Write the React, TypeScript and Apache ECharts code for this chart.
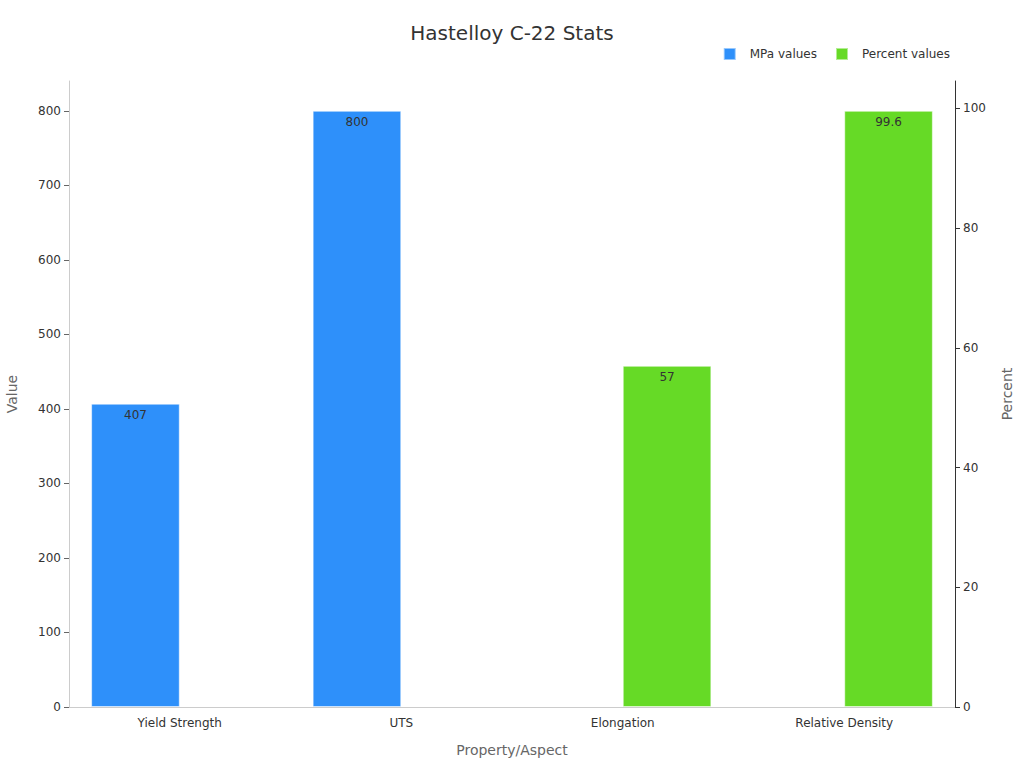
import { useEffect, useRef } from 'react';
import * as echarts from 'echarts';

const categories = ['Yield Strength', 'UTS', 'Elongation', 'Relative Density'];
const mpaValues: (number | null)[] = [407, 800, null, null];
const percentValues: (number | null)[] = [null, null, 57, 99.6];

const FONT = 'DejaVu Sans, sans-serif';

export default function App() {
  const chartRef = useRef<HTMLDivElement | null>(null);

  useEffect(() => {
    if (!chartRef.current) return;
    const chart = echarts.init(chartRef.current, undefined, { renderer: 'svg' });

    chart.setOption({
      animation: false,
      textStyle: { fontFamily: FONT },
      title: {
        text: 'Hastelloy C-22 Stats',
        left: 'center',
        top: 18,
        textStyle: { fontSize: 20, fontWeight: 'normal', color: '#333', fontFamily: FONT },
      },
      legend: {
        top: 42,
        right: 69,
        itemWidth: 12,
        itemHeight: 12,
        itemGap: 18,
        icon: 'rect',
        textStyle: { fontSize: 12, color: '#333', fontFamily: FONT, padding: [0, 0, 0, 9] },
        data: ['MPa values', 'Percent values'],
      },
      grid: { left: 69, right: 69, top: 81, bottom: 61, outerBoundsMode: 'none', containLabel: false },
      xAxis: {
        type: 'category',
        data: categories,
        name: 'Property/Aspect',
        nameLocation: 'middle',
        nameGap: 36,
        nameTextStyle: { fontSize: 14, color: '#666', fontFamily: FONT },
        axisLine: { lineStyle: { color: '#ccc' } },
        axisTick: { alignWithLabel: true, lineStyle: { color: '#666' } },
        axisLabel: { fontSize: 12, color: '#333', fontFamily: FONT, margin: 10 },
      },
      yAxis: [
        {
          type: 'value',
          name: 'Value',
          nameLocation: 'middle',
          nameGap: 50,
          nameTextStyle: { fontSize: 14, color: '#666', fontFamily: FONT },
          min: 0,
          max: (v: { max: number }) => v.max * 1.05,
          interval: 100,
          axisLine: { show: true, lineStyle: { color: '#ccc' } },
          axisTick: { show: true, lineStyle: { color: '#666' } },
          axisLabel: { fontSize: 12, color: '#333', fontFamily: FONT, showMaxLabel: false },
          splitLine: { show: false },
        },
        {
          type: 'value',
          name: 'Percent',
          nameLocation: 'middle',
          nameGap: 45,
          nameTextStyle: { fontSize: 14, color: '#666', fontFamily: FONT },
          min: 0,
          max: (v: { max: number }) => v.max * 1.05,
          interval: 20,
          position: 'right',
          axisLine: { show: true, lineStyle: { color: '#333' } },
          axisTick: { show: true, lineStyle: { color: '#333' } },
          axisLabel: { fontSize: 12, color: '#333', fontFamily: FONT, showMaxLabel: false },
          splitLine: { show: false },
        },
      ],
      series: [
        {
          name: 'MPa values',
          type: 'bar',
          yAxisIndex: 0,
          data: mpaValues,
          barGap: '0%',
          barCategoryGap: '20%',
          itemStyle: { color: '#2E90FA', borderColor: 'rgba(255,255,255,0.5)', borderWidth: 1 },
          label: { show: true, position: 'insideTop', color: '#333', fontSize: 12, fontFamily: FONT },
        },
        {
          name: 'Percent values',
          type: 'bar',
          yAxisIndex: 1,
          data: percentValues,
          barGap: '0%',
          barCategoryGap: '20%',
          itemStyle: { color: '#66DA26', borderColor: 'rgba(255,255,255,0.5)', borderWidth: 1 },
          label: { show: true, position: 'insideTop', color: '#333', fontSize: 12, fontFamily: FONT },
        },
      ],
    });

    return () => {
      chart.dispose();
    };
  }, []);

  return (
    <div
      ref={chartRef}
      style={{ position: 'absolute', left: 0, top: 0, width: 1024, height: 768 }}
    />
  );
}
